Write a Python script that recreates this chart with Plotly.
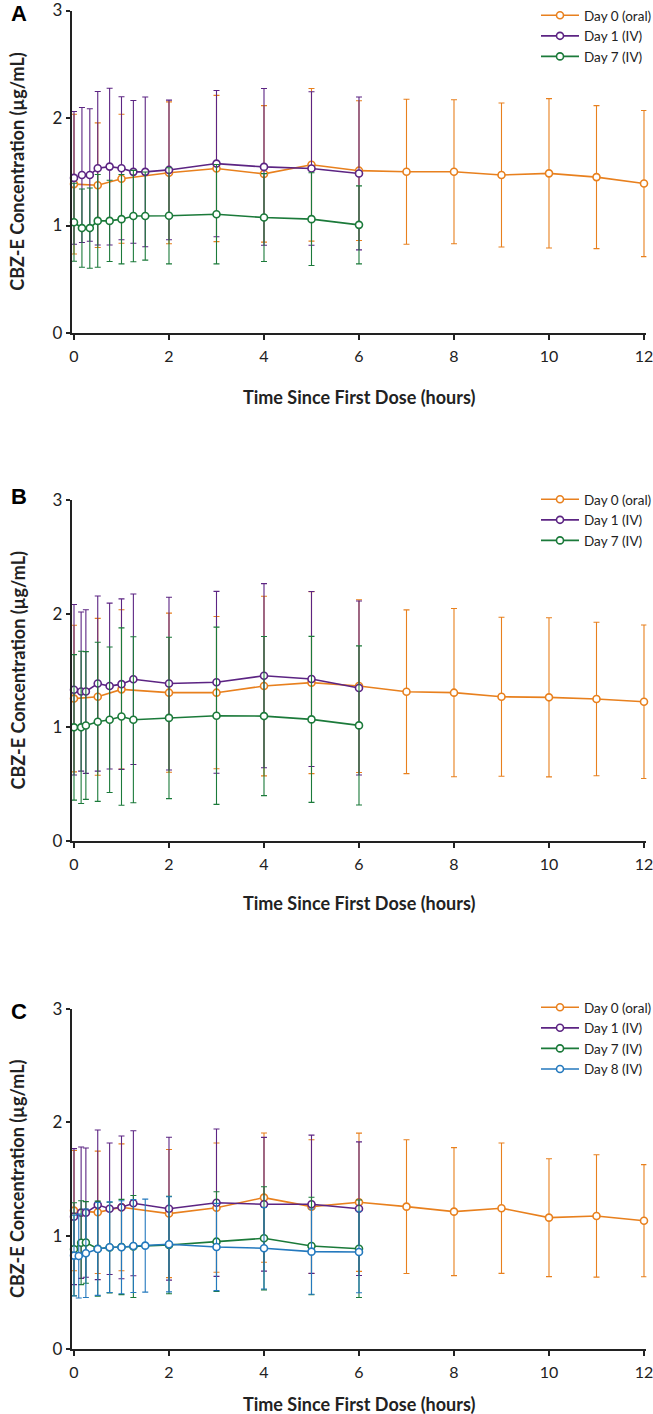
import plotly.graph_objects as go

# ---------------- data ----------------
t_oral = [0, 0.5, 1, 2, 3, 4, 5, 6, 7, 8, 9, 10, 11, 12]

# Panel A
tA_iv = [0, 0.167, 0.333, 0.5, 0.75, 1, 1.25, 1.5, 2, 3, 4, 5, 6]
A_day0 = [1.385, 1.375, 1.435, 1.49, 1.53, 1.48, 1.565, 1.51, 1.50, 1.50, 1.47, 1.485, 1.45, 1.39]
A_day0_sd = [0.65, 0.58, 0.60, 0.66, 0.68, 0.635, 0.71, 0.65, 0.675, 0.67, 0.67, 0.695, 0.665, 0.68]
A_day1 = [1.443, 1.470, 1.470, 1.533, 1.548, 1.533, 1.499, 1.499, 1.517, 1.576, 1.545, 1.530, 1.484]
A_day1_sd = [0.617, 0.628, 0.616, 0.714, 0.729, 0.665, 0.664, 0.696, 0.649, 0.68, 0.729, 0.714, 0.711]
A_day7 = [1.030, 0.976, 0.976, 1.043, 1.043, 1.059, 1.088, 1.088, 1.090, 1.105, 1.074, 1.059, 1.006]
A_day7_sd = [0.363, 0.364, 0.373, 0.431, 0.378, 0.416, 0.425, 0.41, 0.447, 0.462, 0.409, 0.431, 0.363]

# Panel B
tB_iv = [0, 0.15, 0.25, 0.5, 0.75, 1, 1.25, 2, 3, 4, 5, 6]
B_day0 = [1.253, 1.269, 1.334, 1.305, 1.305, 1.363, 1.393, 1.363, 1.313, 1.305, 1.269, 1.264, 1.249, 1.225]
B_day0_sd = [0.645, 0.69, 0.70, 0.70, 0.67, 0.79, 0.80, 0.76, 0.72, 0.74, 0.70, 0.70, 0.675, 0.675]
B_day1 = [1.33, 1.315, 1.315, 1.385, 1.363, 1.38, 1.423, 1.385, 1.396, 1.454, 1.425, 1.346]
B_day1_sd = [0.75, 0.70, 0.72, 0.77, 0.73, 0.75, 0.75, 0.76, 0.80, 0.81, 0.77, 0.765]
B_day7 = [1.0, 1.0, 1.016, 1.049, 1.067, 1.095, 1.067, 1.083, 1.102, 1.099, 1.07, 1.017]
B_day7_sd = [0.64, 0.67, 0.65, 0.70, 0.64, 0.78, 0.73, 0.71, 0.78, 0.70, 0.73, 0.70]

# Panel C
tC_iv = [0, 0.15, 0.25, 0.5, 0.75, 1, 1.25, 2, 3, 4, 5, 6]
tC_day8 = [0, 0.1, 0.25, 0.5, 0.75, 1, 1.25, 1.5, 2, 3, 4, 5, 6]
C_day0 = [1.221, 1.206, 1.25, 1.195, 1.247, 1.336, 1.256, 1.295, 1.256, 1.212, 1.242, 1.159, 1.174, 1.132]
C_day0_sd = [0.53, 0.54, 0.56, 0.565, 0.57, 0.57, 0.59, 0.61, 0.59, 0.565, 0.575, 0.52, 0.54, 0.495]
C_day1 = [1.168, 1.203, 1.203, 1.272, 1.238, 1.25, 1.286, 1.238, 1.291, 1.277, 1.277, 1.238]
C_day1_sd = [0.60, 0.58, 0.57, 0.66, 0.58, 0.63, 0.64, 0.63, 0.65, 0.59, 0.61, 0.59]
C_day7 = [0.88, 0.938, 0.94, 0.885, 0.895, 0.90, 0.905, 0.918, 0.947, 0.977, 0.909, 0.885]
C_day7_sd = [0.41, 0.37, 0.36, 0.42, 0.40, 0.42, 0.45, 0.43, 0.44, 0.455, 0.43, 0.43]
C_day8 = [0.824, 0.82, 0.845, 0.883, 0.898, 0.898, 0.909, 0.912, 0.924, 0.90, 0.889, 0.859, 0.856]
C_day8_sd = [0.356, 0.37, 0.39, 0.41, 0.40, 0.41, 0.41, 0.41, 0.42, 0.385, 0.36, 0.376, 0.36]

names = ["Day 0 (oral)", "Day 1 (IV)", "Day 7 (IV)", "Day 8 (IV)"]
x_ticks = [0, 2, 4, 6, 8, 10, 12]
y_ticks = [0, 1, 2, 3]
panel_labels = ["A", "B", "C"]
x_title = "Time Since First Dose (hours)"
y_title = "CBZ-E Concentration (µg/mL)"

# ---------------- style ----------------
COL = {"Day 0 (oral)": "#E8801E", "Day 1 (IV)": "#5C2483",
       "Day 7 (IV)": "#1B7A3A", "Day 8 (IV)": "#2479BE"}
W, H = 653, 1414
FONT = "Lato, 'Open Sans', sans-serif"
AXC = "#222222"


def px_x(p):
    return p / W


def px_y(p):
    return 1 - p / H


# pixel geometry of each panel: (y of value 0, y of value 3)
panels_px = [(333, 10.5), (841, 500), (1349, 1009)]
letter_y_px = [13, 496, 1012]
xtitle_y_px = [397, 903, 1404]
legend_top_px = [-1, 484, 992]
x0_px, x12_px = 74, 644
pad = 0.05
ppu = (x12_px - x0_px) / 12.0
xdom = [px_x(x0_px - pad * ppu), px_x(x12_px + pad * ppu)]

panel_series = [
    [(t_oral, A_day0, A_day0_sd, names[0]), (tA_iv, A_day1, A_day1_sd, names[1]),
     (tA_iv, A_day7, A_day7_sd, names[2])],
    [(t_oral, B_day0, B_day0_sd, names[0]), (tB_iv, B_day1, B_day1_sd, names[1]),
     (tB_iv, B_day7, B_day7_sd, names[2])],
    [(t_oral, C_day0, C_day0_sd, names[0]), (tC_iv, C_day1, C_day1_sd, names[1]),
     (tC_iv, C_day7, C_day7_sd, names[2]), (tC_day8, C_day8, C_day8_sd, names[3])],
]

fig = go.Figure()
layout = dict(width=W, height=H, margin=dict(l=0, r=0, t=0, b=0, pad=0, autoexpand=False),
              paper_bgcolor="white", plot_bgcolor="white",
              font=dict(family=FONT, color=AXC), showlegend=True)
annotations = []

for i, series in enumerate(panel_series):
    k = "" if i == 0 else str(i + 1)
    leg = "legend" + k
    yb, yt = panels_px[i]
    ydom = [px_y(yb), min(1.0, px_y(yt))]
    for (tx, mean, sd, nm) in series:
        c = COL[nm]
        fig.add_trace(go.Scatter(
            x=tx, y=mean, name=nm, mode="lines+markers",
            xaxis="x" + k, yaxis="y" + k, legend=leg,
            line=dict(color=c, width=1.6),
            marker=dict(symbol="circle", size=7, color="white",
                        line=dict(color=c, width=1.6)),
            error_y=dict(type="data", array=sd, visible=True, color=c,
                         thickness=1.1, width=3),
            cliponaxis=False,
        ))
    layout["xaxis" + k] = dict(
        domain=xdom, range=[-pad, 12 + pad], anchor="y" + k, automargin=False,
        tickmode="array", tickvals=x_ticks, ticktext=[str(v) for v in x_ticks],
        ticks="outside", ticklen=5, tickwidth=1.5, tickcolor=AXC, ticklabelstandoff=3,
        ticklabeloverflow="allow",
        showline=True, linecolor=AXC, linewidth=1.5, showgrid=False, zeroline=False,
        tickfont=dict(size=16, color=AXC, family=FONT))
    layout["yaxis" + k] = dict(
        domain=ydom, range=[0, 3], anchor="x" + k, automargin=False,
        tickmode="array", tickvals=y_ticks, ticktext=[str(v) for v in y_ticks],
        ticks="outside", ticklen=4, tickwidth=1.5, tickcolor=AXC,
        ticklabeloverflow="allow",
        showline=True, linecolor=AXC, linewidth=1.5, showgrid=False, zeroline=False,
        tickfont=dict(size=17, color=AXC, family=FONT))
    layout[leg] = dict(x=px_x(536), xanchor="left", y=min(1.0, px_y(legend_top_px[i])),
                       yanchor="top",
                       bgcolor="rgba(0,0,0,0)", font=dict(size=13.5, color=AXC, family=FONT),
                       tracegroupgap=0, itemwidth=38)
    # panel letter
    annotations.append(dict(text="<b>%s</b>" % panel_labels[i], x=px_x(19), y=px_y(letter_y_px[i]),
                            xref="paper", yref="paper", showarrow=False,
                            xanchor="center", yanchor="middle",
                            font=dict(size=22, family="Arial, Liberation Sans", color="black")))
    # y title
    annotations.append(dict(text="<b>%s</b>" % y_title, x=px_x(17), y=px_y((yb + yt) / 2),
                            xref="paper", yref="paper", showarrow=False, textangle=-90,
                            xanchor="center", yanchor="middle",
                            font=dict(size=18, family=FONT, color=AXC)))
    # x title
    annotations.append(dict(text="<b>%s</b>" % x_title, x=px_x((x0_px + x12_px) / 2),
                            y=px_y(xtitle_y_px[i]), xref="paper", yref="paper", showarrow=False,
                            xanchor="center", yanchor="middle",
                            font=dict(size=18, family=FONT, color=AXC)))

layout["annotations"] = annotations
fig.update_layout(**layout)
fig.write_html("out.html", config={"displayModeBar": False},
               post_script="document.body.style.margin='0px';")
